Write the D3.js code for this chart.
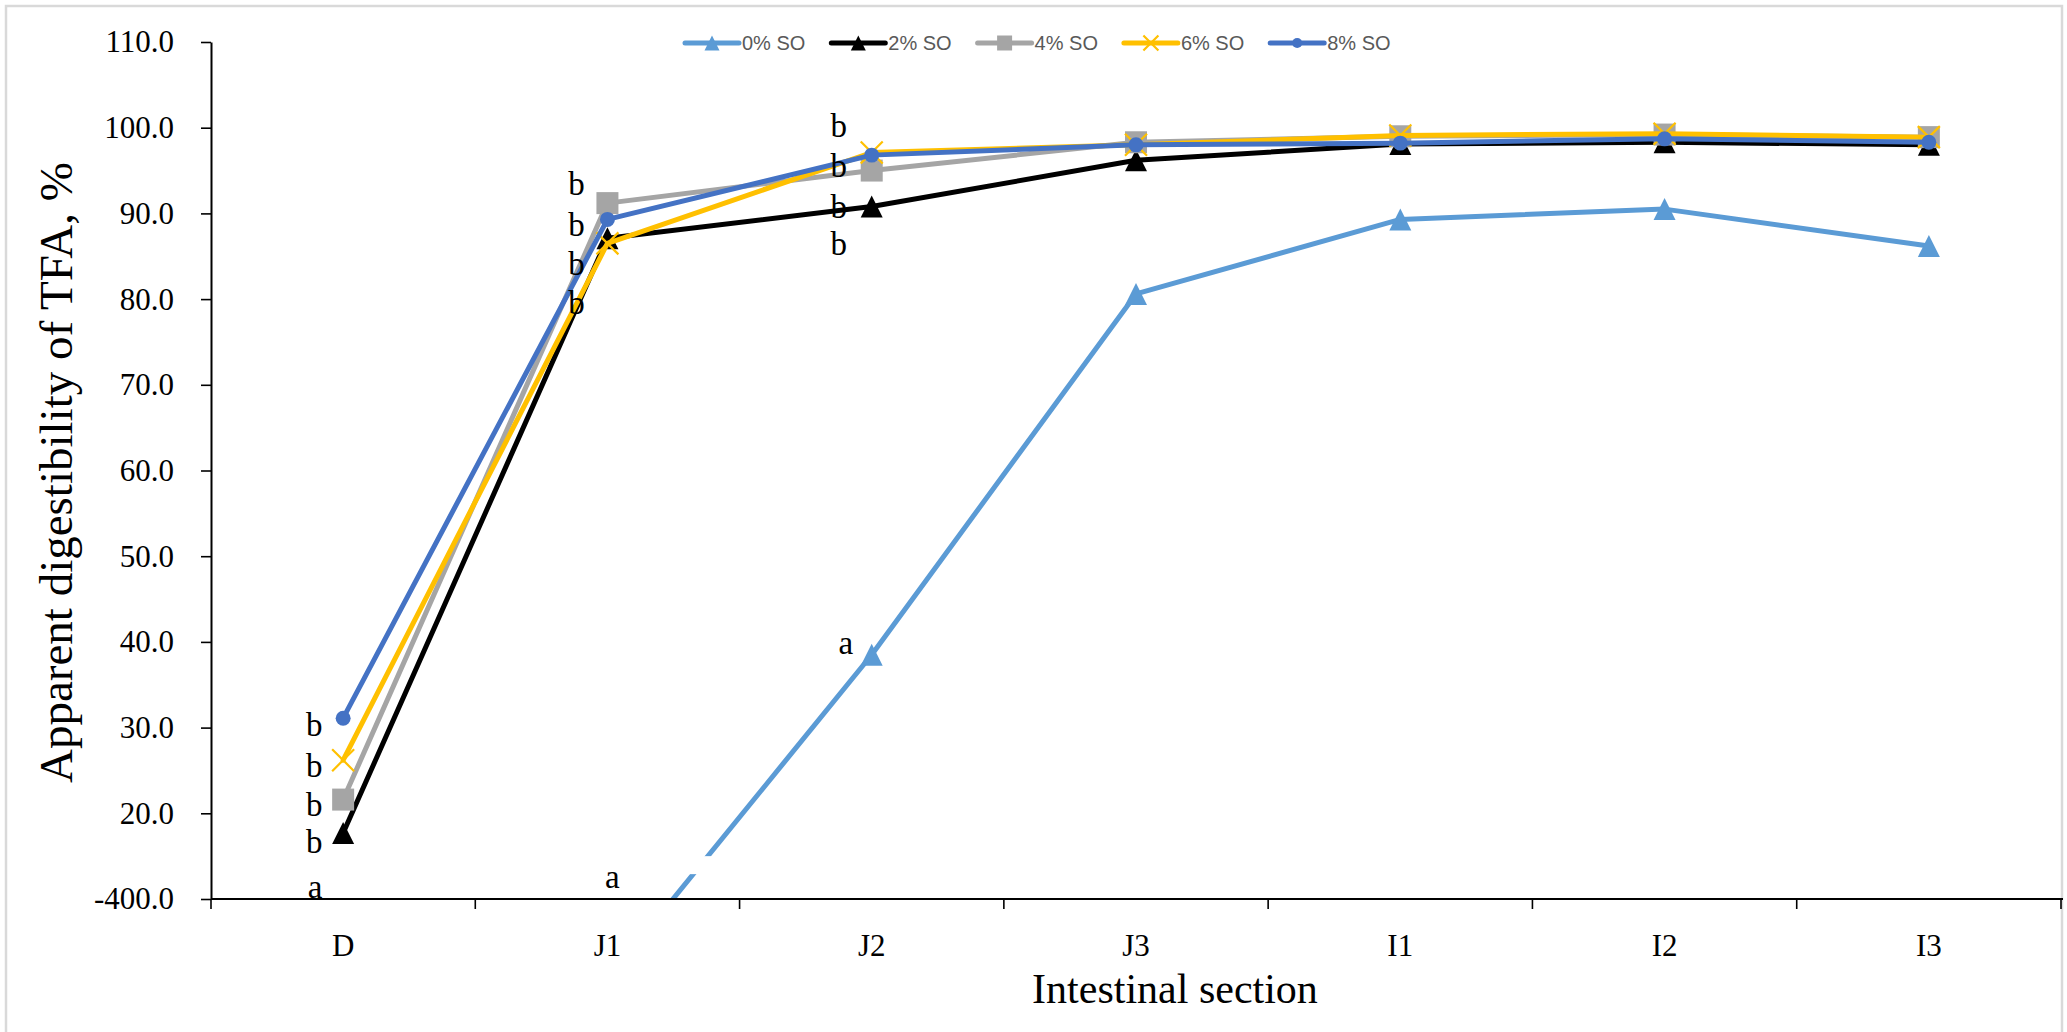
<!DOCTYPE html>
<html>
<head>
<meta charset="utf-8">
<script src="https://cdn.jsdelivr.net/npm/d3@7/dist/d3.min.js"></script>
<style>
  body { margin: 0; background: #fff; }
  svg { display: block; }
</style>
</head>
<body>
<div id="main"></div>
<script>
// ---- data ----
const categories = ["D", "J1", "J2", "J3", "I1", "I2", "I3"];
const seriesNames = ["0% SO", "2% SO", "4% SO", "6% SO", "8% SO"];
// 0% SO at D and J1 lies below the axis break
const so0 = [-392.0, 0.6, 38.5, 80.6, 89.3, 90.5, 86.2];
const so2 = [17.7, 87.1, 90.8, 96.2, 98.1, 98.3, 98.0];
const so4 = [21.6, 91.2, 95.0, 98.3, 99.0, 99.2, 98.9];
const so6 = [26.2, 86.5, 97.1, 98.0, 99.1, 99.3, 98.9];
const so8 = [31.1, 89.3, 96.8, 98.0, 98.2, 98.7, 98.3];

const yTickValues = [10, 20, 30, 40, 50, 60, 70, 80, 90, 100, 110];
const yTickLabels = ["-400.0", "20.0", "30.0", "40.0", "50.0", "60.0", "70.0", "80.0", "90.0", "100.0", "110.0"];

// significance letters
const letterCats = ["D", "D", "D", "D", "D", "J1", "J1", "J1", "J1", "J1", "J2", "J2", "J2", "J2", "J2"];
const letterText = ["b", "b", "b", "b", "a", "b", "b", "b", "b", "a", "b", "b", "b", "b", "a"];
const letterVals = [29.0, 24.2, 19.7, 15.4, 10.1, 92.1, 87.4, 82.8, 78.3, 11.3, 98.9, 94.2, 89.5, 85.1, 38.6];

const ctx = {
    WIDTH: 2067,
    HEIGHT: 1032,
    left: 211, right: 2061, top: 42, bottom: 899,
};

const colors = ["#5B9BD5", "#000000", "#A5A5A5", "#FFC000", "#4472C4"];
const markers = ["triangle", "triangle", "square", "cross", "circle"];
const serif = "'Liberation Serif', 'Times New Roman', serif";

function markerPath(type, s) {
    const h = s / 2;
    if (type === "triangle") return `M0,${-h}L${h},${h}L${-h},${h}Z`;
    if (type === "square") return `M${-h},${-h}H${h}V${h}H${-h}Z`;
    if (type === "cross") return `M${-h},${-h}L${h},${h}M${h},${-h}L${-h},${h}`;
    return d3.arc()({innerRadius: 0, outerRadius: h * 0.68, startAngle: 0, endAngle: 2 * Math.PI});
}

function drawMarker(g, type, color, s) {
    g.append("path")
        .attr("d", markerPath(type, s))
        .attr("fill", type === "cross" ? "none" : color)
        .attr("stroke", type === "cross" ? color : "none")
        .attr("stroke-width", 2.2);
}

function createViz() {
    const svg = d3.select("#main").append("svg")
        .attr("width", ctx.WIDTH)
        .attr("height", ctx.HEIGHT);

    // chart area border
    svg.append("rect")
        .attr("x", 6).attr("y", 6)
        .attr("width", 2056).attr("height", 1100)
        .attr("fill", "#fff")
        .attr("stroke", "#d9d9d9")
        .attr("stroke-width", 2.5);

    const x = d3.scaleBand().domain(categories).range([ctx.left, ctx.right]);
    const cx = c => x(c) + x.bandwidth() / 2;
    const y = d3.scaleLinear().domain([10, 110]).range([ctx.bottom, ctx.top]);

    svg.append("clipPath").attr("id", "plotClip")
        .append("rect")
        .attr("x", ctx.left).attr("y", ctx.top - 20)
        .attr("width", ctx.right - ctx.left + 10)
        .attr("height", ctx.bottom - ctx.top + 20);

    // y axis
    const yAxis = d3.axisLeft(y)
        .tickValues(yTickValues)
        .tickFormat((d, i) => yTickLabels[i])
        .tickSize(10)
        .tickSizeOuter(0)
        .tickPadding(27);
    const yg = svg.append("g")
        .attr("transform", `translate(${ctx.left},0)`)
        .call(yAxis);
    yg.select(".domain").attr("stroke", "#000").attr("stroke-width", 2);
    yg.selectAll(".tick line").attr("stroke", "#000").attr("stroke-width", 1.6);
    yg.selectAll("text")
        .attr("font-family", serif)
        .attr("font-size", 31)
        .attr("fill", "#000");

    // x axis: ticks on category boundaries, labels at centres
    const bounds = d3.range(categories.length + 1).map(i => ctx.left + i * x.step());
    const xg = svg.append("g");
    xg.selectAll("line.tick")
        .data(bounds)
        .enter()
        .append("line")
        .attr("class", "tick")
        .attr("x1", d => d).attr("x2", d => d)
        .attr("y1", ctx.bottom).attr("y2", ctx.bottom + 10)
        .attr("stroke", "#000")
        .attr("stroke-width", 1.6);
    xg.selectAll("text")
        .data(categories)
        .enter()
        .append("text")
        .attr("x", d => cx(d))
        .attr("y", ctx.bottom + 57)
        .attr("text-anchor", "middle")
        .attr("font-family", serif)
        .attr("font-size", 31)
        .text(d => d);

    // series
    const allSeries = [so0, so2, so4, so6, so8];
    const line = d3.line()
        .x((d, i) => cx(categories[i]))
        .y(d => y(d));

    const seriesG = svg.append("g");
    allSeries.forEach((vals, k) => {
        const g = seriesG.append("g");
        g.append("path")
            .attr("clip-path", "url(#plotClip)")
            .attr("d", line(vals))
            .attr("fill", "none")
            .attr("stroke", colors[k])
            .attr("stroke-width", 5)
            .attr("stroke-linejoin", "round")
            .attr("stroke-linecap", "round");

        if (k === 0) {
            // break mark on the 0% line where it leaves the axis
            const x1 = cx(categories[1]), x2 = cx(categories[2]);
            const at = v => x1 + (x2 - x1) * (v - vals[1]) / (vals[2] - vals[1]);
            g.append("rect")
                .attr("x", at(12.9) - 20)
                .attr("y", y(15.0))
                .attr("width", at(15.0) - at(12.9) + 40)
                .attr("height", y(12.9) - y(15.0))
                .attr("fill", "#fff");
        }

        vals.forEach((v, i) => {
            if (v < 10) return;
            const m = g.append("g")
                .attr("transform", `translate(${cx(categories[i])},${y(v)})`);
            drawMarker(m, markers[k], colors[k], 22);
        });
    });

    // letters
    const letterDx = [-29, -29, -29, -29, -28, -31, -31, -31, -31, 5, -33, -33, -33, -33, -26];
    svg.append("g").selectAll("text")
        .data(letterText)
        .enter()
        .append("text")
        .attr("x", (d, i) => cx(letterCats[i]) + letterDx[i])
        .attr("y", (d, i) => y(letterVals[i]))
        .attr("text-anchor", "middle")
        .attr("font-family", serif)
        .attr("font-size", 33)
        .text(d => d);

    // axis lines on top
    svg.append("line")
        .attr("x1", ctx.left).attr("x2", ctx.right + 2)
        .attr("y1", ctx.bottom).attr("y2", ctx.bottom)
        .attr("stroke", "#000").attr("stroke-width", 2.2);

    // axis titles
    svg.append("text")
        .attr("transform", `translate(72,${(ctx.top + ctx.bottom) / 2 + 2}) rotate(-90)`)
        .attr("text-anchor", "middle")
        .attr("font-family", serif)
        .attr("font-size", 47)
        .text("Apparent digestibility of TFA, %");

    svg.append("text")
        .attr("x", 1175)
        .attr("y", 1003)
        .attr("text-anchor", "middle")
        .attr("font-family", serif)
        .attr("font-size", 42)
        .text("Intestinal section");

    // legend
    const legend = svg.append("g").attr("transform", "translate(685,43)");
    seriesNames.forEach((name, k) => {
        const item = legend.append("g").attr("transform", `translate(${k * 146.3},0)`);
        item.append("line")
            .attr("x1", 0).attr("x2", 54)
            .attr("stroke", colors[k])
            .attr("stroke-width", 5)
            .attr("stroke-linecap", "round");
        const m = item.append("g").attr("transform", "translate(27,0)");
        drawMarker(m, markers[k], colors[k], 15);
        item.append("text")
            .attr("x", 57)
            .attr("dy", "0.35em")
            .attr("font-family", "'Liberation Sans', Arial, sans-serif")
            .attr("font-size", 20)
            .attr("fill", "#595959")
            .text(name);
    });
}

createViz();
</script>
</body>
</html>
